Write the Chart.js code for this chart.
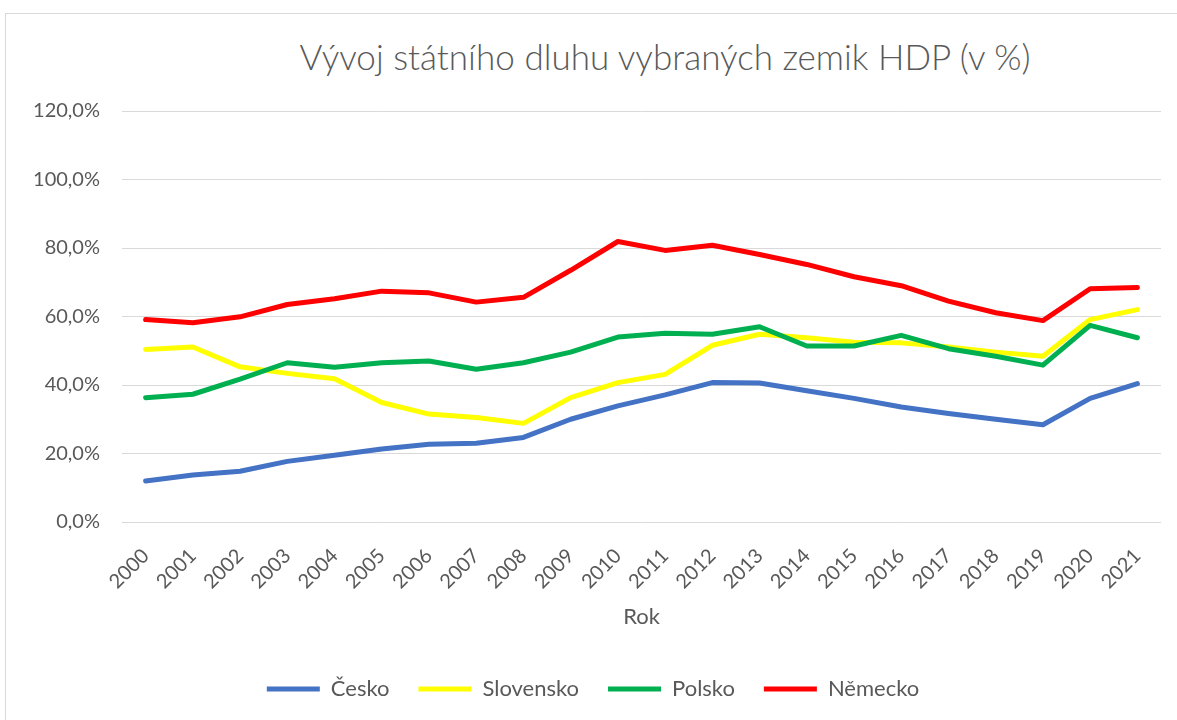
<!DOCTYPE html>
<html>
<head>
<meta charset="utf-8">
<script src="https://cdn.jsdelivr.net/npm/chart.js@4"></script>
<style>
    html, body { margin: 0; padding: 0; background: #fff; overflow: hidden; }
    .frame {
        position: absolute; left: 5px; top: 13px; width: 1300px; height: 800px;
        border: 1px solid #d9d9d9; box-sizing: border-box;
    }
    .chart-title {
        position: absolute; left: 215px; width: 900px; top: 35px;
        text-align: center; font-family: Lato, sans-serif; font-weight: 300;
        font-size: 35px; color: #595959; line-height: 42px;
    }
    .chart-box { position: absolute; left: 0; top: 0; width: 1177px; height: 720px; }
</style>
</head>
<body>
<div class="frame"></div>
<div class="chart-title">Vývoj státního dluhu vybraných zemik HDP (v %)</div>
<div class="chart-box"><canvas id="debtChart"></canvas></div>
<script>
const years = ['2000', '2001', '2002', '2003', '2004', '2005', '2006', '2007', '2008', '2009', '2010',
    '2011', '2012', '2013', '2014', '2015', '2016', '2017', '2018', '2019', '2020', '2021'];
const cesko = [12.0, 13.7, 14.8, 17.7, 19.5, 21.3, 22.7, 23.0, 24.7, 30.0, 33.9,
    37.1, 40.7, 40.6, 38.3, 36.1, 33.6, 31.7, 30.0, 28.4, 36.1, 40.4];
const slovensko = [50.4, 51.1, 45.3, 43.4, 41.8, 34.9, 31.5, 30.5, 28.8, 36.3, 40.7,
    43.1, 51.6, 54.8, 53.8, 52.5, 52.3, 51.1, 49.6, 48.4, 59.1, 62.0];
const polsko = [36.3, 37.3, 41.7, 46.5, 45.2, 46.5, 47.0, 44.6, 46.5, 49.6, 54.0,
    55.1, 54.8, 57.0, 51.4, 51.4, 54.5, 50.6, 48.4, 45.8, 57.4, 53.8];
const nemecko = [59.1, 58.2, 59.9, 63.5, 65.2, 67.4, 66.9, 64.2, 65.6, 73.5, 81.9,
    79.3, 80.8, 78.1, 75.2, 71.6, 69.0, 64.5, 61.1, 58.8, 68.1, 68.5];
const yTicks = [0, 20, 40, 60, 80, 100, 120];

const textColor = '#595959';

function series(label, data, color, order) {
    return {
        label: label,
        data: data,
        borderColor: color,
        backgroundColor: color,
        borderWidth: 5,
        borderCapStyle: 'round',
        borderJoinStyle: 'round',
        pointRadius: 0,
        pointHoverRadius: 0,
        tension: 0,
        fill: false,
        order: order
    };
}

const ctx = document.getElementById('debtChart').getContext('2d');
new Chart(ctx, {
    type: 'line',
    data: {
        labels: years,
        datasets: [
            series('Česko', cesko, '#4472C4', 4),
            series('Slovensko', slovensko, '#FFFF00', 3),
            series('Polsko', polsko, '#00B050', 2),
            series('Německo', nemecko, '#FF0000', 1)
        ]
    },
    options: {
        responsive: true,
        maintainAspectRatio: false,
        animation: false,
        layout: {
            padding: { left: 25, right: 16, top: 111, bottom: 10 }
        },
        plugins: {
            tooltip: { enabled: false },
            legend: {
                position: 'bottom',
                labels: {
                    usePointStyle: true,
                    pointStyle: 'line',
                    pointStyleWidth: 53,
                    padding: 29,
                    color: textColor,
                    font: { family: 'Lato', size: 22 },
                    sort: (a, b) => a.datasetIndex - b.datasetIndex
                }
            }
        },
        scales: {
            x: {
                offset: true,
                grid: { display: false },
                border: { display: false },
                ticks: {
                    color: textColor,
                    font: { family: 'Lato', size: 20 },
                    autoSkip: false,
                    minRotation: 45,
                    maxRotation: 45,
                    padding: 14
                },
                title: {
                    display: true,
                    text: 'Rok',
                    color: textColor,
                    font: { family: 'Lato', size: 22 },
                    padding: { top: 0, bottom: 19 }
                },
                afterFit: s => { s.height = 127; }
            },
            y: {
                min: 0,
                max: 120,
                grid: { color: '#d9d9d9', lineWidth: 1, drawTicks: false },
                border: { display: false },
                afterBuildTicks: s => { s.ticks = yTicks.map(v => ({ value: v })); },
                ticks: {
                    color: textColor,
                    font: { family: 'Lato', size: 20 },
                    padding: 22,
                    callback: v => v.toFixed(1).replace('.', ',') + '%'
                },
                afterFit: s => { s.width = 97; }
            }
        }
    }
});
</script>
</body>
</html>
